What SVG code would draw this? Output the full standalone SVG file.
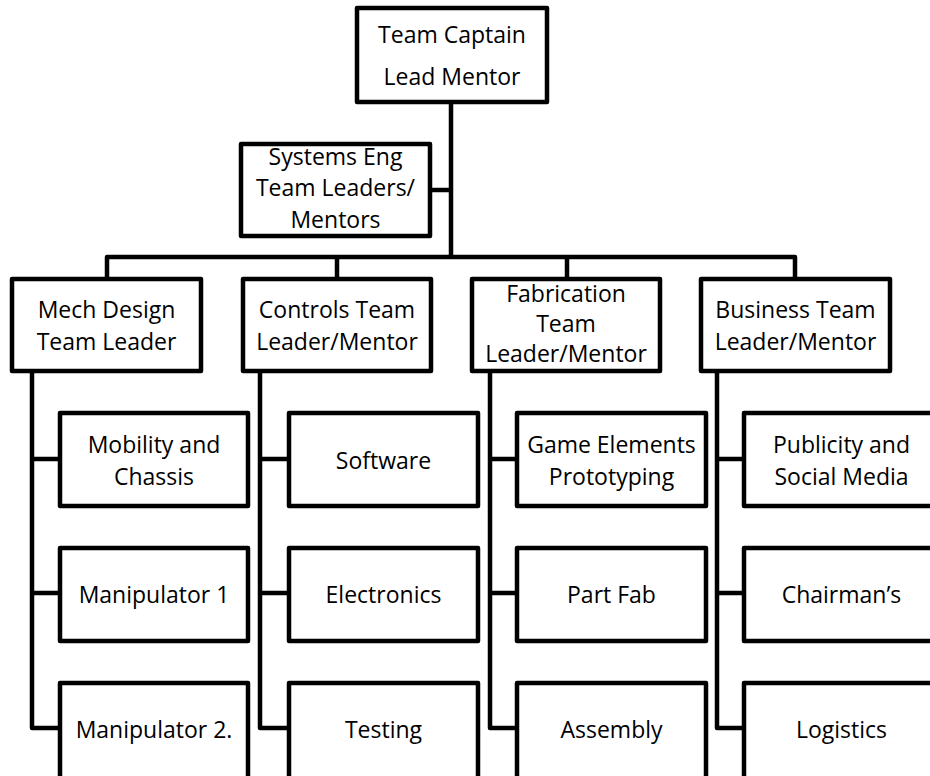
<svg xmlns="http://www.w3.org/2000/svg" width="930" height="776" viewBox="0 0 930 776">
<style>
.box{fill:#fff;stroke:#000;stroke-width:4.5;stroke-linejoin:round}
.ln{fill:none;stroke:#000;stroke-width:4.5;stroke-linejoin:round}
text{font-family:"Open Sans","Noto Sans","Liberation Sans",sans-serif;font-size:23px;fill:#000;text-anchor:middle}
</style>
<rect width="930" height="776" fill="#fff"/>
<g id="connectors">
<path class="ln" d="M451 102V257"/>
<path class="ln" d="M430 190H451"/>
<path class="ln" d="M107 279V257H795V279"/>
<path class="ln" d="M337 257V279"/>
<path class="ln" d="M567 257V279"/>
<path class="ln" d="M32 371V728H60M32 459H60M32 593H60"/>
<path class="ln" d="M260 371V728H289M260 459H289M260 593H289"/>
<path class="ln" d="M490 371V728H517M490 459H517M490 593H517"/>
<path class="ln" d="M717 371V728H744M717 459H744M717 593H744"/>
</g>
<g id="captain"><rect class="box" x="357" y="8" width="190" height="94"/><text x="452" y="43">Team Captain</text><text x="452" y="85">Lead Mentor</text></g>
<g id="systems"><rect class="box" x="241" y="144" width="189" height="92"/><text x="335.5" y="165">Systems Eng</text><text x="335.5" y="196">Team Leaders/</text><text x="335.5" y="228">Mentors</text></g>
<g id="mech"><rect class="box" x="12" y="279" width="189" height="92"/><text x="106.5" y="318">Mech Design</text><text x="106.5" y="350">Team Leader</text></g>
<g id="controls"><rect class="box" x="243" y="279" width="188" height="92"/><text x="337" y="318">Controls Team</text><text x="337" y="350">Leader/Mentor</text></g>
<g id="fabrication"><rect class="box" x="472" y="279" width="188" height="92"/><text x="566" y="302">Fabrication</text><text x="566" y="332">Team</text><text x="566" y="362">Leader/Mentor</text></g>
<g id="business"><rect class="box" x="701" y="279" width="189" height="92"/><text x="795.5" y="318">Business Team</text><text x="795.5" y="350">Leader/Mentor</text></g>
<g id="mobility"><rect class="box" x="60" y="413" width="188" height="93"/><text x="154" y="453">Mobility and</text><text x="154" y="485">Chassis</text></g>
<g id="manip1"><rect class="box" x="60" y="548" width="188" height="93"/><text x="154" y="603">Manipulator 1</text></g>
<g id="manip2"><rect class="box" x="60" y="683" width="188" height="110"/><text x="154" y="738">Manipulator 2.</text></g>
<g id="software"><rect class="box" x="289" y="413" width="189" height="93"/><text x="383.5" y="469">Software</text></g>
<g id="electronics"><rect class="box" x="289" y="548" width="189" height="93"/><text x="383.5" y="603">Electronics</text></g>
<g id="testing"><rect class="box" x="289" y="683" width="189" height="110"/><text x="383.5" y="738">Testing</text></g>
<g id="game"><rect class="box" x="517" y="413" width="189" height="93"/><text x="611.5" y="453">Game Elements</text><text x="611.5" y="485">Prototyping</text></g>
<g id="partfab"><rect class="box" x="517" y="548" width="189" height="93"/><text x="611.5" y="603">Part Fab</text></g>
<g id="assembly"><rect class="box" x="517" y="683" width="189" height="110"/><text x="611.5" y="738">Assembly</text></g>
<g id="publicity"><rect class="box" x="744" y="413" width="195" height="93"/><text x="841.5" y="453">Publicity and</text><text x="841.5" y="485">Social Media</text></g>
<g id="chairmans"><rect class="box" x="744" y="548" width="195" height="93"/><text x="841.5" y="603">Chairman’s</text></g>
<g id="logistics"><rect class="box" x="744" y="683" width="195" height="110"/><text x="841.5" y="738">Logistics</text></g>
</svg>
